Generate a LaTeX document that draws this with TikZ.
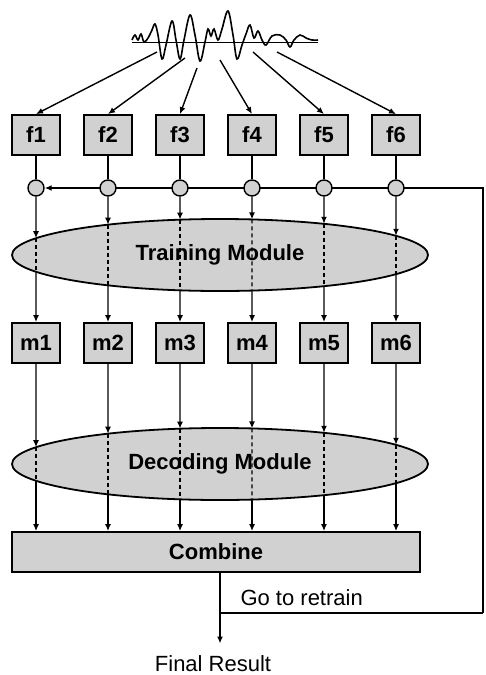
\documentclass[tikz,border=0pt]{standalone}
\usepackage{fontspec}
\setmainfont{Liberation Sans}
\usetikzlibrary{shapes.geometric,arrows.meta,intersections,backgrounds}

\begin{document}
\begin{tikzpicture}[x=1pt,y=-1pt,
    every node/.style={font=\fontsize{22}{24}\selectfont},
    flow/.style={-{Latex[length=7pt,width=6pt]}, line width=1.4pt},
    link/.style={line width=1.4pt},
    inside/.style={line width=1.2pt, dash pattern=on 4pt off 3pt},
    featbox/.style={draw, line width=1.8pt, fill=black!18, minimum width=48pt, minimum height=40pt, inner sep=0pt, font=\fontsize{22}{24}\selectfont\bfseries},
    joint/.style={draw, circle, line width=1.4pt, fill=black!18, minimum size=16pt, inner sep=0pt},
    module/.style={draw, ellipse, line width=1.8pt, fill=black!18, minimum width=416pt, minimum height=72pt, inner sep=0pt, font=\fontsize{22}{24}\selectfont\bfseries}]
  \useasboundingbox (0,0) rectangle (485,675);

  % Speech signal
  \draw[line width=1pt] (132,42) -- (318,42);
  \draw[line width=1.6pt, smooth, tension=0.6] plot coordinates {
    (132,40) (135,35) (138,40) (141,34) (144,42) (148,38) (152,30) (155,24)
    (158,35) (162,59) (166,45) (172,21) (176,40) (180,59) (184,40) (190,15)
    (195,35) (200,61) (205,42) (208,29) (211,36) (214,29) (218,40) (222,29)
    (228,11) (233,35) (237,59) (242,45) (246,34) (250,25) (254,38) (258,31)
    (262,40) (266,45) (272,36) (280,35) (286,40) (290,47) (294,40) (300,35)
    (306,38) (312,40) (318,40)};
  \coordinate (w1) at (157,52);
  \coordinate (w2) at (185,58);
  \coordinate (w3) at (197,68);
  \coordinate (w4) at (220,60);
  \coordinate (w5) at (253,52);
  \coordinate (w6) at (277,52);

  % Feature streams and models
  \foreach \i/\x in {1/36,2/108,3/180,4/252,5/324,6/396} {
    \node[featbox] (f\i) at (\x,135) {f\i};
    \node[joint] (c\i) at (\x,188) {};
    \node[featbox] (m\i) at (\x,343) {m\i};
    \draw[flow] (w\i) -- (f\i.north);
    \draw[link] (f\i) -- (c\i);
  }

  % Modules
  \node[module, name path=train] (train) at (220,255) {Training Module};
  \node[module, name path=decode] (decode) at (220,464) {Decoding Module};
  \node[featbox, minimum width=408pt] (comb) at (216,552) {Combine};
  \node[anchor=base] (fin) at (213,671) {Final Result};

  % Links through the modules
  \foreach \i in {1,...,6} {
    \path[name path=up\i] (c\i) -- (m\i);
    \path[name intersections={of=train and up\i, sort by=up\i, by={ta\i,tb\i}}];
    \draw[flow] (c\i) -- (ta\i);
    \draw[inside] (ta\i) -- (tb\i);
    \draw[flow] (tb\i) -- (m\i);
    \path[name path=low\i] (m\i) -- (m\i |- comb.north);
    \path[name intersections={of=decode and low\i, sort by=low\i, by={da\i,db\i}}];
    \draw[flow] (m\i) -- (da\i);
    \draw[inside] (da\i) -- (db\i);
    \draw[flow] (db\i) -- (db\i |- comb.north);
  }

  % Feedback
  \coordinate (split) at (220,613);
  \coordinate (edge) at (483,613);
  \draw[link] (split |- comb.south) -- (split) -- (edge);
  \draw[flow, shorten >=8pt] (split) -- (split |- fin.north);
  \node[anchor=base west] (retrain) at (237,605) {Go to retrain};
  \begin{scope}[on background layer]
    \draw[flow] (edge) -- (edge |- c6) -- (c1);
  \end{scope}
\end{tikzpicture}
\end{document}
